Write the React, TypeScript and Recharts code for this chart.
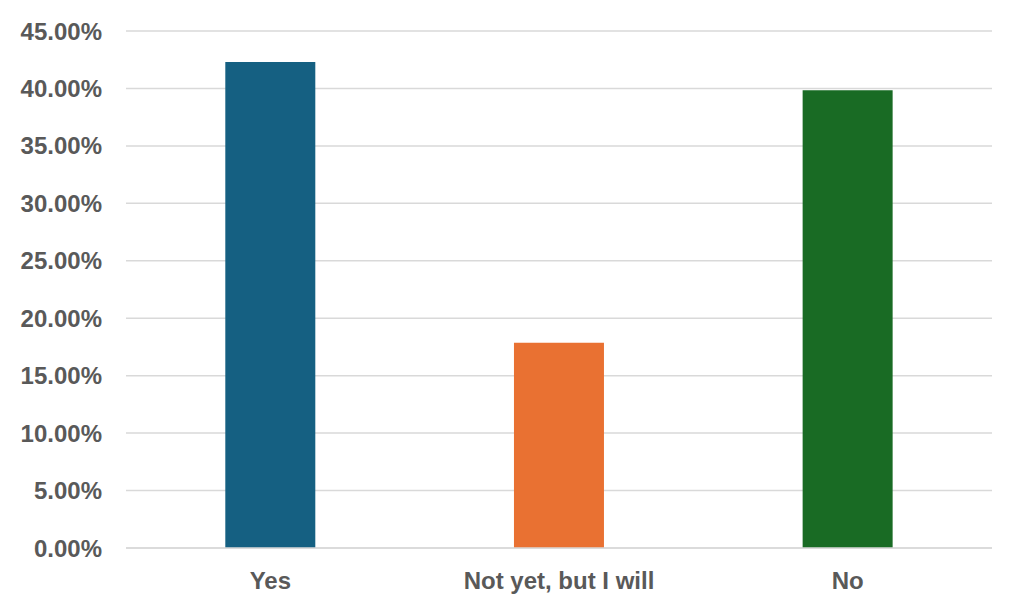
import { BarChart, Bar, Cell, XAxis, YAxis, CartesianGrid } from 'recharts';

const categories = ['Yes', 'Not yet, but I will', 'No'];
const shares = [42.3, 17.86, 39.84];
const yTicks = [0, 5, 10, 15, 20, 25, 30, 35, 40, 45];

const barColors = ['#156082', '#E97132', '#196B24'];
const textColor = '#595959';
const gridColor = '#d9d9d9';
const font = '"Liberation Sans", Arial, sans-serif';

const data = categories.map((name, i) => ({ name, value: shares[i] }));

export default function App() {
  return (
    <div style={{ position: 'absolute', left: 0, top: 0, width: 1023, height: 614, background: '#fff' }}>
      <BarChart
        width={1023}
        height={614}
        data={data}
        margin={{ top: 31, right: 31, bottom: 0, left: 0 }}
        barCategoryGap="34.4%"
      >
        <CartesianGrid stroke={gridColor} strokeWidth={1.5} vertical={false} />
        <XAxis
          dataKey="name"
          height={66}
          axisLine={{ stroke: gridColor, strokeWidth: 1.5 }}
          tickLine={false}
          tickSize={0}
          tickMargin={24}
          tick={{ fill: textColor, fontSize: 24, fontWeight: 700, fontFamily: font }}
        />
        <YAxis
          width={126}
          domain={[0, 45]}
          ticks={yTicks}
          tickFormatter={(v: number) => `${v.toFixed(2)}%`}
          axisLine={false}
          tickLine={false}
          tickSize={0}
          tickMargin={24}
          tick={{ fill: textColor, fontSize: 24, fontWeight: 700, fontFamily: font }}
        />
        <Bar dataKey="value" isAnimationActive={false}>
          {data.map((d, i) => (
            <Cell key={d.name} fill={barColors[i]} />
          ))}
        </Bar>
      </BarChart>
    </div>
  );
}
